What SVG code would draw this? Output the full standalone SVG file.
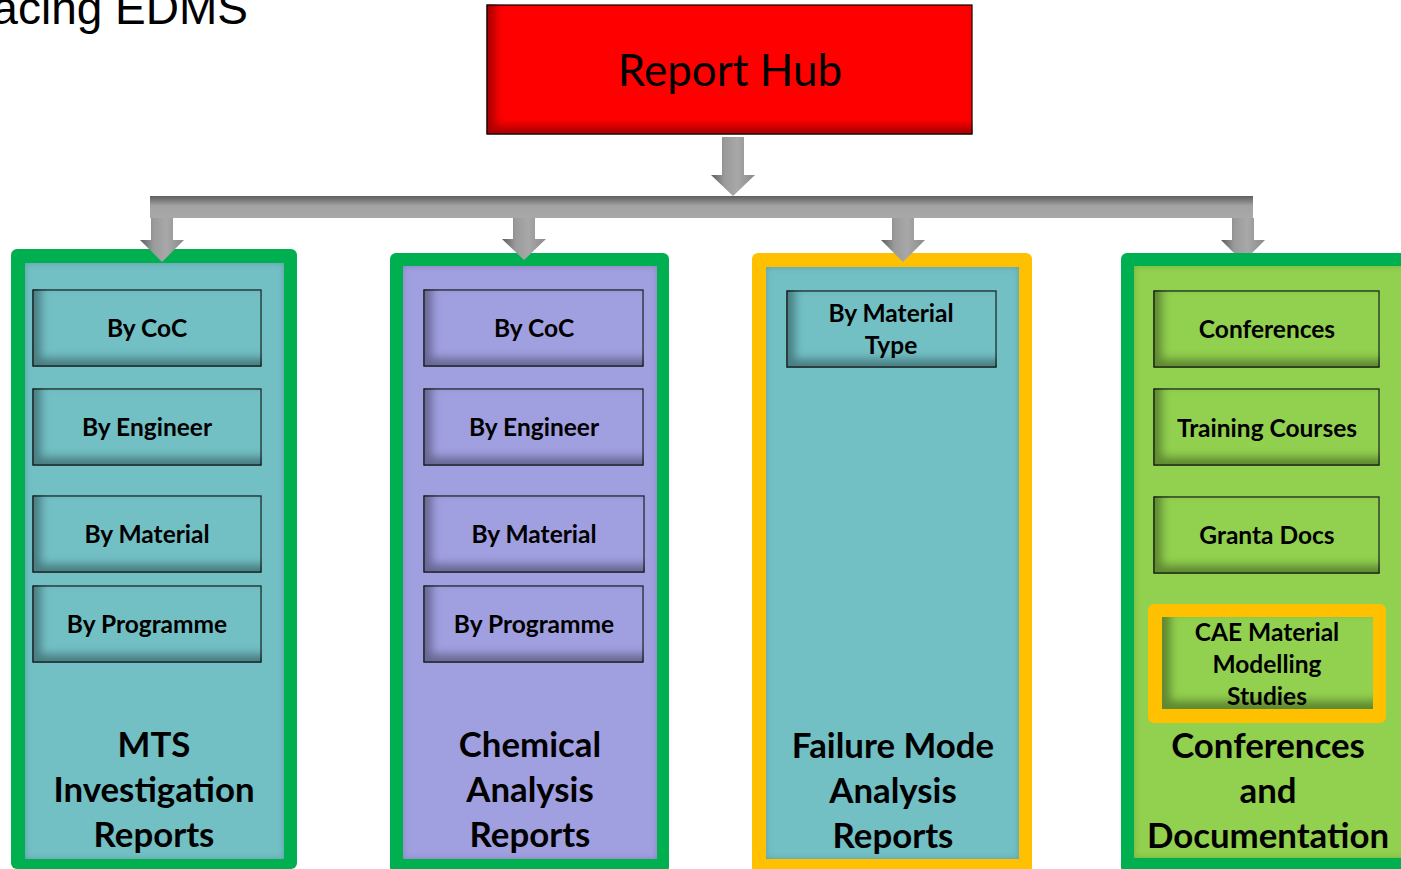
<svg xmlns="http://www.w3.org/2000/svg" width="1401" height="869" viewBox="0 0 1401 869">
<style>
.sub{stroke:#1e2a2a;stroke-width:1.2}
.st{font-family:Lato,"Open Sans",sans-serif;font-weight:bold;font-size:24.5px;fill:#000;text-anchor:middle}
.tt{font-family:Lato,"Open Sans",sans-serif;font-weight:bold;font-size:34.8px;fill:#000;text-anchor:middle}
.teal{fill:#72bfc4}
.purple{fill:#a09fdf}
.lime{fill:#92d050}
.green{fill:#00b050}
.orange{fill:#ffc000}
.arrow{fill:url(#gShaft)}
</style>
<defs>
<linearGradient id="gShaft" x1="0" y1="0" x2="1" y2="0">
<stop offset="0" stop-color="#5c5c5c"/>
<stop offset="0.3" stop-color="#9a9a9a"/>
<stop offset="0.6" stop-color="#a8a8a8"/>
<stop offset="1" stop-color="#8a8a8a"/>
</linearGradient>
<linearGradient id="gBar" x1="0" y1="0" x2="0" y2="1">
<stop offset="0" stop-color="#5e5e5e"/>
<stop offset="0.45" stop-color="#a3a3a3"/>
<stop offset="1" stop-color="#a8a8a8"/>
</linearGradient>
<filter id="inset" x="-5%" y="-5%" width="110%" height="110%">
<feOffset in="SourceAlpha" dx="9" dy="-9" result="off"/>
<feGaussianBlur in="off" stdDeviation="4" result="blur"/>
<feComposite in="SourceAlpha" in2="blur" operator="out" result="inner"/>
<feFlood flood-color="#000" flood-opacity="0.6"/>
<feComposite in2="inner" operator="in" result="sh"/>
<feMerge><feMergeNode in="SourceGraphic"/><feMergeNode in="sh"/></feMerge>
</filter>
<filter id="panel" x="-2%" y="-2%" width="104%" height="104%">
<feGaussianBlur in="SourceAlpha" stdDeviation="3" result="blur"/>
<feComposite in="SourceAlpha" in2="blur" operator="out" result="inner"/>
<feFlood flood-color="#000" flood-opacity="0.35"/>
<feComposite in2="inner" operator="in" result="sh"/>
<feMerge><feMergeNode in="SourceGraphic"/><feMergeNode in="sh"/></feMerge>
</filter>
</defs>
<rect width="1401" height="869" fill="#fff"/>

<text id="title" x="248" y="24" font-family="'Liberation Sans',Arial,sans-serif" font-size="46" text-anchor="end" fill="#000">acing EDMS</text>

<g id="hub">
<rect x="487" y="5" width="485" height="129" fill="#ff0000" stroke="#1a0000" stroke-width="1.2" filter="url(#inset)"/>
<text x="730" y="86" font-family="Lato,'Open Sans',sans-serif" font-size="44" text-anchor="middle" fill="#000">Report Hub</text>
</g>

<g id="col-mts">
<rect class="green" x="11" y="249" width="286" height="620" rx="6"/>
<rect class="teal" x="25" y="263" width="259" height="596" filter="url(#panel)"/>
<g id="mts-coc"><rect class="sub teal" x="33" y="290" width="228" height="76" filter="url(#inset)"/><text class="st" x="147" y="337">By CoC</text></g>
<g id="mts-eng"><rect class="sub teal" x="33" y="389" width="228" height="76" filter="url(#inset)"/><text class="st" x="147" y="436">By Engineer</text></g>
<g id="mts-mat"><rect class="sub teal" x="33" y="496" width="228" height="76" filter="url(#inset)"/><text class="st" x="147" y="543">By Material</text></g>
<g id="mts-prog"><rect class="sub teal" x="33" y="586" width="228" height="76" filter="url(#inset)"/><text class="st" x="147" y="633">By Programme</text></g>
<text class="tt" x="154" y="757">MTS</text>
<text class="tt" x="154" y="802">Investigation</text>
<text class="tt" x="154" y="847">Reports</text>
</g>

<g id="col-chem">
<rect class="green" x="390" y="253" width="279" height="620" rx="6"/>
<rect class="purple" x="403" y="266" width="254" height="593" filter="url(#panel)"/>
<g id="chem-coc"><rect class="sub purple" x="424" y="290" width="219" height="76" filter="url(#inset)"/><text class="st" x="534" y="337">By CoC</text></g>
<g id="chem-eng"><rect class="sub purple" x="424" y="389" width="219" height="76" filter="url(#inset)"/><text class="st" x="534" y="436">By Engineer</text></g>
<g id="chem-mat"><rect class="sub purple" x="424" y="496" width="220" height="76" filter="url(#inset)"/><text class="st" x="534" y="543">By Material</text></g>
<g id="chem-prog"><rect class="sub purple" x="424" y="586" width="219" height="76" filter="url(#inset)"/><text class="st" x="534" y="633">By Programme</text></g>
<text class="tt" x="530" y="757">Chemical</text>
<text class="tt" x="530" y="802">Analysis</text>
<text class="tt" x="530" y="847">Reports</text>
</g>

<g id="col-fail">
<rect class="orange" x="752" y="253" width="280" height="620" rx="6"/>
<rect class="teal" x="766" y="267" width="253" height="592" filter="url(#panel)"/>
<g id="fail-type"><rect class="sub teal" x="787" y="291" width="209" height="76" filter="url(#inset)"/><text class="st" x="891" y="322">By Material</text><text class="st" x="891" y="354">Type</text></g>
<text class="tt" x="893" y="758">Failure Mode</text>
<text class="tt" x="893" y="803">Analysis</text>
<text class="tt" x="893" y="848">Reports</text>
</g>

<g id="connectors">
<polygon class="arrow" points="722,137 744,137 744,175 755,175 733,196 711,175 722,175"/>
<rect x="150" y="196" width="1103" height="22" fill="url(#gBar)"/>
<polygon class="arrow" points="151,218 173,218 173,240 184,240 162,262 140,240 151,240"/>
<polygon class="arrow" points="513,218 535,218 535,239 546,239 524,260 502,239 513,239"/>
<polygon class="arrow" points="892,218 914,218 914,240 925,240 903,262 881,240 892,240"/>
<polygon class="arrow" points="1232,218 1254,218 1254,240 1265,240 1252,253 1234,253 1221,240 1232,240"/>
</g>

<g id="col-conf">
<rect class="green" x="1121" y="253" width="300" height="620" rx="6"/>
<rect class="lime" x="1134" y="266" width="280" height="592" filter="url(#panel)"/>
<g id="conf-conf"><rect class="sub lime" x="1154" y="291" width="225" height="76" filter="url(#inset)"/><text class="st" x="1267" y="338">Conferences</text></g>
<g id="conf-train"><rect class="sub lime" x="1154" y="389" width="225" height="76" filter="url(#inset)"/><text class="st" x="1267" y="437">Training Courses</text></g>
<g id="conf-granta"><rect class="sub lime" x="1154" y="497" width="225" height="76" filter="url(#inset)"/><text class="st" x="1267" y="544">Granta Docs</text></g>
<g id="conf-cae">
<rect class="orange" x="1148" y="604" width="238" height="119" rx="6"/>
<rect class="lime" x="1162" y="617" width="211" height="92" filter="url(#inset)"/>
<text class="st" x="1267" y="641">CAE Material</text>
<text class="st" x="1267" y="673">Modelling</text>
<text class="st" x="1267" y="705">Studies</text>
</g>
<text class="tt" x="1268" y="758">Conferences</text>
<text class="tt" x="1268" y="803">and</text>
<text class="tt" x="1268" y="848">Documentation</text>
</g>
</svg>
